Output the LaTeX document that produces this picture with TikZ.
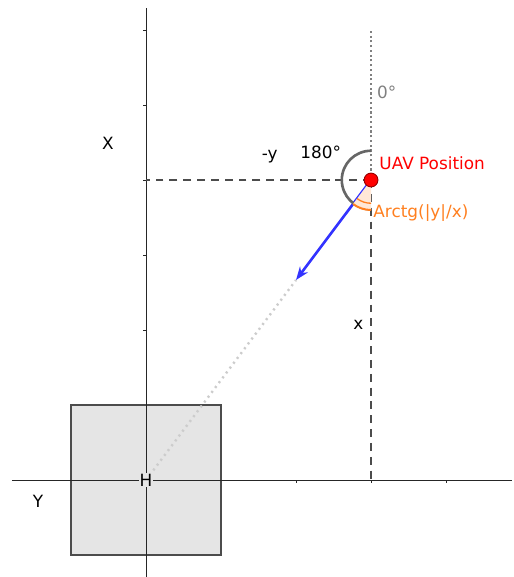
\documentclass[tikz,border=0pt]{standalone}
\usepackage{fontspec}
\setmainfont{DejaVu Sans}
\usetikzlibrary{arrows.meta}

\definecolor{uavred}{HTML}{FF0000}
\definecolor{angorange}{HTML}{FF7F1F}
\definecolor{dirblue}{HTML}{3333FF}

\begin{document}
\begin{tikzpicture}[
  x=2cm, y=2cm,
  every node/.style={font=\fontsize{12.8}{15}\selectfont},
  axis/.style={black!85, line width=0.7pt},
  tick/.style={black!85, line width=0.6pt},
  base/.style={draw=black!70, fill=black!10, line width=2pt},
  dashline/.style={black!70, line width=2.2pt, dash pattern=on 6pt off 4.5pt},
  north/.style={black!50, line width=1.8pt, dash pattern=on 1.6pt off 2pt},
  track/.style={black!20, line width=1.8pt, dash pattern=on 1.6pt off 3pt},
  arrow/.style={-{Stealth[length=10pt,width=7.5pt]}, dirblue, line width=2pt},
  uav/.style={circle, draw=red!60!black, fill=uavred, inner sep=0pt,
              minimum size=10.5pt, line width=0.7pt}
]
\useasboundingbox (-1.947,-1.293) rectangle (4.893,6.4);

% home pad
\draw[base] (-1,-1) rectangle (1,1);

% axes and ticks
\draw[axis] (0,-1.3) -- (0,6.29);
\draw[axis] (-1.79,0) -- (4.88,0);
\foreach \y in {2,...,6}
  \draw[tick] (0,\y) -- (-0.045,\y);
\foreach \x in {2,3,4}
  \draw[tick] (\x,0) -- (\x,-0.045);

\coordinate (uavpos) at (3,4);
\coordinate (xfoot) at (3,0);
\coordinate (yfoot) at (0,4);
\coordinate (top) at (3,6);
\coordinate (tip) at (2,2.667);

% projections
\draw[dashline] (uavpos) -- (yfoot);
\draw[dashline] (uavpos) -- (xfoot);
\draw[north] (uavpos) -- (top);

% heading
\draw[track] (0,0) -- (tip);
\draw[arrow] (uavpos) -- (tip);
\node[fill=black!10, inner sep=0.6pt] (H) at (0,0) {H};

% angles
\draw[black!60, line width=2pt] ([shift={(90:0.39)}]uavpos)
  arc[start angle=90, end angle=270, radius=0.39];
\fill[angorange!18] (uavpos) -- ++(233.13:0.4)
  arc[start angle=233.13, end angle=270, radius=0.4] -- cycle;
\draw[angorange, line width=1.5pt] ([shift={(233.13:0.4)}]uavpos)
  arc[start angle=233.13, end angle=270, radius=0.4];
\draw[angorange, line width=1pt] ([shift={(233.13:0.31)}]uavpos)
  arc[start angle=233.13, end angle=270, radius=0.31];

\node[uav] (uav) at (uavpos) {};

% labels
\node[text=uavred, anchor=west] (uavlabel) at (3.05,4.23) {UAV Position};
\node[text=angorange, anchor=west] (anglabel) at (2.97,3.56) {Arctg(|y|/x)};
\node[text=black!50] (zero) at (3.21,5.17) {0°};
\node (half) at (2.33,4.37) {180°};
\node (negy) at (1.65,4.31) {-y};
\node (xaxis) at (-0.51,4.49) {X};
\node (yaxis) at (-1.44,-0.29) {Y};
\node (xdist) at (2.83,2.07) {x};
\end{tikzpicture}
\end{document}
